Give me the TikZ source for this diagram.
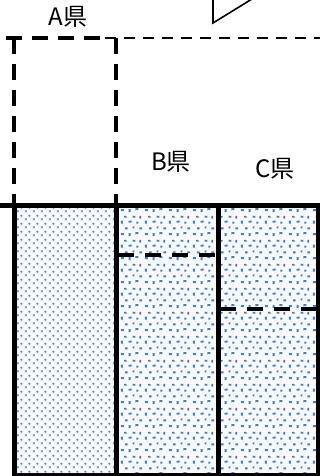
\documentclass[tikz,border=0pt]{standalone}
\usepackage{fontspec}
\setmainfont{Noto Sans CJK JP}
\usetikzlibrary{patterns}
\definecolor{dotblue}{HTML}{4A7CC0}
\definecolor{softblue}{HTML}{6A93CF}
\definecolor{paper}{HTML}{F8F9FB}
\pgfdeclarepatternformonly{rounddots}{\pgfpointorigin}{\pgfpoint{8pt}{8pt}}{\pgfpoint{8pt}{8pt}}{%
  \pgfpathcircle{\pgfpoint{2pt}{2pt}}{1.4pt}%
  \pgfpathcircle{\pgfpoint{6pt}{6pt}}{1.4pt}%
  \pgfusepath{fill}}
\pgfdeclarepatternformonly{rectdots}{\pgfpointorigin}{\pgfpoint{24pt}{24pt}}{\pgfpoint{24pt}{24pt}}{%
  \pgfpathrectangle{\pgfpoint{1pt}{2pt}}{\pgfpoint{3pt}{2pt}}%
  \pgfpathrectangle{\pgfpoint{9pt}{1pt}}{\pgfpoint{2pt}{3pt}}%
  \pgfpathrectangle{\pgfpoint{16pt}{3pt}}{\pgfpoint{3pt}{2pt}}%
  \pgfpathrectangle{\pgfpoint{5pt}{8pt}}{\pgfpoint{3pt}{2pt}}%
  \pgfpathrectangle{\pgfpoint{13pt}{9pt}}{\pgfpoint{2pt}{2pt}}%
  \pgfpathrectangle{\pgfpoint{20pt}{8pt}}{\pgfpoint{3pt}{2pt}}%
  \pgfpathrectangle{\pgfpoint{1pt}{14pt}}{\pgfpoint{2pt}{3pt}}%
  \pgfpathrectangle{\pgfpoint{9pt}{15pt}}{\pgfpoint{3pt}{2pt}}%
  \pgfpathrectangle{\pgfpoint{17pt}{14pt}}{\pgfpoint{2pt}{2pt}}%
  \pgfpathrectangle{\pgfpoint{4pt}{20pt}}{\pgfpoint{3pt}{2pt}}%
  \pgfpathrectangle{\pgfpoint{13pt}{20pt}}{\pgfpoint{3pt}{2pt}}%
  \pgfpathrectangle{\pgfpoint{20pt}{19pt}}{\pgfpoint{2pt}{3pt}}%
  \pgfusepath{fill}}
\tikzset{
  lbl/.style={font=\fontsize{24}{24}\selectfont, inner sep=0pt},
  thickdash/.style={line width=4pt, dash pattern=on 16pt off 10pt},
  thindash/.style={line width=2.5pt, dash pattern=on 11pt off 8pt},
  boxline/.style={line width=5pt},
  innerdash/.style={line width=4pt, dash pattern=on 16pt off 11pt},
}
\begin{document}
\begin{tikzpicture}[x=1pt,y=-1pt]
\useasboundingbox (0,0) rectangle (320,476);
% callout fragment
\draw[line width=1.6pt] (213,-2) -- (213,23) -- (252,-1);
% upper dashed outline
\draw[thindash] (105,38) -- (322,38);
\draw[thickdash] (6,38) -- (108,38);
\draw[thickdash] (14,38) -- (14,205);
\draw[thickdash] (116,38) -- (116,205);
% columns
\fill[paper] (14,205) rectangle (318,480);
\fill[pattern=rounddots, pattern color=softblue] (14,205) rectangle (116,480);
\fill[pattern=rectdots, pattern color=dotblue] (116,205) rectangle (318,480);
\draw[boxline] (14,205) rectangle (116,475);
\draw[boxline] (116,205) rectangle (218,475);
\draw[boxline] (218,205) rectangle (318,475);
\draw[boxline] (0,205) -- (320,205);
% inner dashed lines
\draw[innerdash] (118,255) -- (218,255);
\draw[innerdash] (220,309) -- (320,309);
% labels
\node[lbl] (a) at (68,17) {A県};
\node[lbl] (b) at (171,162) {B県};
\node[lbl] (c) at (275,169) {C県};
\end{tikzpicture}
\end{document}
